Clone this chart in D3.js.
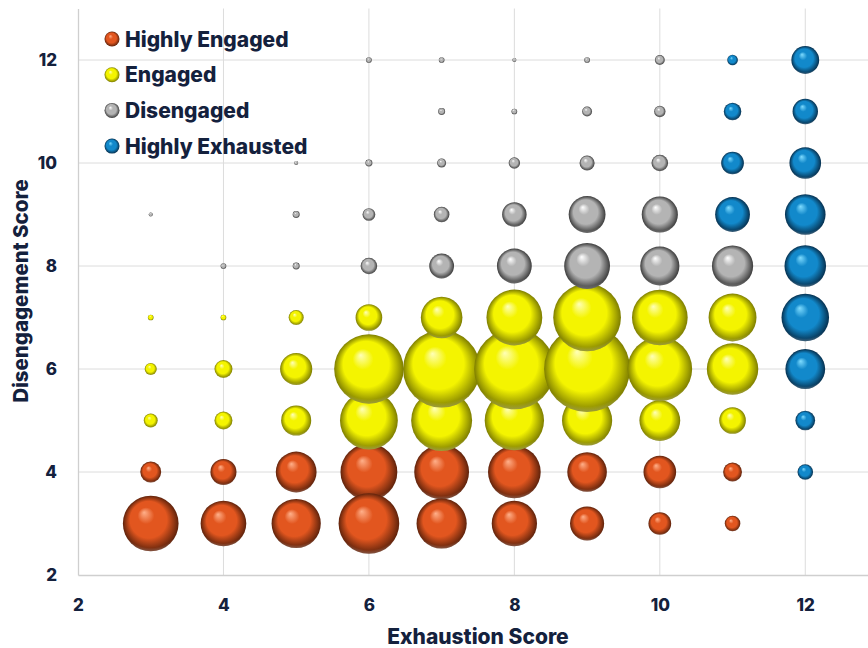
<!DOCTYPE html>
<html>
<head>
<meta charset="utf-8">
<script src="https://cdn.jsdelivr.net/npm/d3@7"></script>
<style>
  html, body { margin: 0; padding: 0; background: #fff; }
  svg { display: block; font-family: Inter, "Open Sans", sans-serif; }
</style>
</head>
<body>
<svg id="chart" width="868" height="648"></svg>
<script>
// Segment names and their sphere colours (highlight, base, shadow)
const segments = ["Highly Engaged", "Engaged", "Disengaged", "Highly Exhausted"];
const segmentColors = [
  ["#ffb08a", "#e2561f", "#5e220b"],
  ["#ffffb8", "#f4f400", "#7d7d00"],
  ["#ffffff", "#b4b4b4", "#3c3c3c"],
  ["#7fdcff", "#1289cb", "#06304f"]
];

// Each point: [exhaustion score, disengagement score, respondents]
const highlyEngaged = [
  [3, 4, 27], [4, 4, 42], [5, 4, 103], [6, 4, 200], [7, 4, 186], [8, 4, 172], [9, 4, 97], [10, 4, 66], [11, 4, 22],
  [3, 3, 192], [4, 3, 129], [5, 3, 150], [6, 3, 228], [7, 3, 156], [8, 3, 127], [9, 3, 72], [10, 3, 32], [11, 3, 15]
];
const engaged = [
  [3, 5, 12], [4, 5, 20], [5, 5, 56], [6, 5, 207], [7, 5, 230], [8, 5, 218], [9, 5, 156], [10, 5, 103], [11, 5, 44],
  [3, 6, 9], [4, 6, 20], [5, 6, 64], [6, 6, 299], [7, 6, 369], [8, 6, 400], [9, 6, 458], [10, 6, 259], [11, 6, 164],
  [3, 7, 2], [4, 7, 2], [5, 7, 14], [6, 7, 44], [7, 7, 107], [8, 7, 193], [9, 7, 284], [10, 7, 192], [11, 7, 142]
];
const disengaged = [
  [4, 8, 2], [5, 8, 3], [6, 8, 17], [7, 8, 38], [8, 8, 75], [9, 8, 130], [10, 8, 95], [11, 8, 105],
  [3, 9, 1], [5, 9, 3], [6, 9, 10], [7, 9, 15], [8, 9, 37], [9, 9, 84], [10, 9, 81],
  [5, 10, 1], [6, 10, 3], [7, 10, 5], [8, 10, 8], [9, 10, 14], [10, 10, 17],
  [7, 11, 3], [8, 11, 2], [9, 11, 6], [10, 11, 8],
  [6, 12, 2], [7, 12, 2], [8, 12, 1], [9, 12, 2], [10, 12, 6]
];
const highlyExhausted = [
  [12, 4, 15], [12, 5, 24], [12, 6, 98], [12, 7, 140], [12, 8, 107],
  [11, 9, 75], [12, 9, 102], [11, 10, 32], [12, 10, 62],
  [11, 11, 19], [12, 11, 40], [11, 12, 7], [12, 12, 48]
];
const seriesData = [highlyEngaged, engaged, disengaged, highlyExhausted];

const xTicks = [2, 4, 6, 8, 10, 12];
const yTicks = [2, 4, 6, 8, 10, 12];
const xTitle = "Exhaustion Score";
const yTitle = "Disengagement Score";

const ink = "#14213d";
const gridColor = "#dcdcdc";
const font = "Inter, sans-serif";

const svg = d3.select("#chart");
const x = d3.scaleLinear().domain([2, 13]).range([78, 878]);
const y = d3.scaleLinear().domain([2, 13]).range([575, 8.5]);
const maxV = d3.max(seriesData.flat(), d => d[2]);
const r = d3.scaleSqrt().domain([0, maxV]).range([0, 43]);

// Sphere shading gradients
const defs = svg.append("defs");
segmentColors.forEach((c, i) => {
  const g = defs.append("radialGradient")
    .attr("id", "sphere" + i)
    .attr("cx", 0.5).attr("cy", 0.5).attr("r", 0.5)
    .attr("fx", 0.38).attr("fy", 0.3);
  g.append("stop").attr("offset", "0%").attr("stop-color", c[0]);
  g.append("stop").attr("offset", "30%").attr("stop-color", c[1]);
  g.append("stop").attr("offset", "66%").attr("stop-color", c[1]);
  g.append("stop").attr("offset", "90%").attr("stop-color", d3.interpolateRgb(c[1], c[2])(0.7));
  g.append("stop").attr("offset", "100%").attr("stop-color", c[2]);
});
// Soft reflected light along the bottom rim
const rim = defs.append("radialGradient")
  .attr("id", "rim").attr("cx", 0.5).attr("cy", 0.35).attr("r", 0.68);
rim.append("stop").attr("offset", "0%").attr("stop-color", "#fff").attr("stop-opacity", 0);
rim.append("stop").attr("offset", "86%").attr("stop-color", "#fff").attr("stop-opacity", 0);
rim.append("stop").attr("offset", "100%").attr("stop-color", "#fff").attr("stop-opacity", 0.35);

// Grid
const grid = svg.append("g");
grid.selectAll(".gx").data(xTicks.filter(t => t > 2)).join("line")
  .attr("x1", d => x(d)).attr("x2", d => x(d))
  .attr("y1", y(13)).attr("y2", y(2))
  .attr("stroke", gridColor).attr("stroke-width", 1);
grid.selectAll(".gy").data(yTicks.filter(t => t > 2)).join("line")
  .attr("x1", x(2)).attr("x2", 868)
  .attr("y1", d => y(d)).attr("y2", d => y(d))
  .attr("stroke", gridColor).attr("stroke-width", 1);

// Axes
const xAxis = svg.append("g").attr("transform", `translate(0,${y(2)})`)
  .call(d3.axisBottom(x).tickValues(xTicks).tickSize(0).tickPadding(24));
const yAxis = svg.append("g").attr("transform", `translate(${x(2)},0)`)
  .call(d3.axisLeft(y).tickValues(yTicks).tickSize(0).tickPadding(21));
[xAxis, yAxis].forEach(a => {
  a.select(".domain").attr("stroke", "#cfcfcf").attr("stroke-width", 1.3);
  a.selectAll("text").attr("fill", ink).attr("font-size", 17).attr("font-weight", 800)
    .attr("font-family", font);
});

// Bubbles
seriesData.forEach((data, i) => {
  const g = svg.append("g");
  const node = g.selectAll("g").data(data).join("g")
    .attr("transform", d => `translate(${x(d[0])},${y(d[1])})`);
  node.append("circle").attr("r", d => r(d[2])).attr("fill", `url(#sphere${i})`);
  node.append("circle").attr("r", d => r(d[2])).attr("fill", "url(#rim)");
});

// Axis titles
svg.append("text")
  .attr("x", 478).attr("y", 644)
  .attr("text-anchor", "middle")
  .attr("fill", ink).attr("font-size", 21).attr("font-weight", 800)
  .text(xTitle);
svg.append("text")
  .attr("transform", `translate(28,${291}) rotate(-90)`)
  .attr("text-anchor", "middle")
  .attr("fill", ink).attr("font-size", 20.5).attr("font-weight", 800)
  .text(yTitle);

// Legend
const legend = svg.append("g").attr("transform", "translate(112,39)");
const item = legend.selectAll("g").data(segments).join("g")
  .attr("transform", (d, i) => `translate(0,${i * 35.7})`);
item.append("circle").attr("r", 7.5).attr("fill", (d, i) => `url(#sphere${i})`);
item.append("text")
  .attr("x", 13).attr("y", 7.5)
  .attr("fill", ink).attr("font-size", 21).attr("font-weight", 800)
  .text(d => d);
</script>
</body>
</html>
